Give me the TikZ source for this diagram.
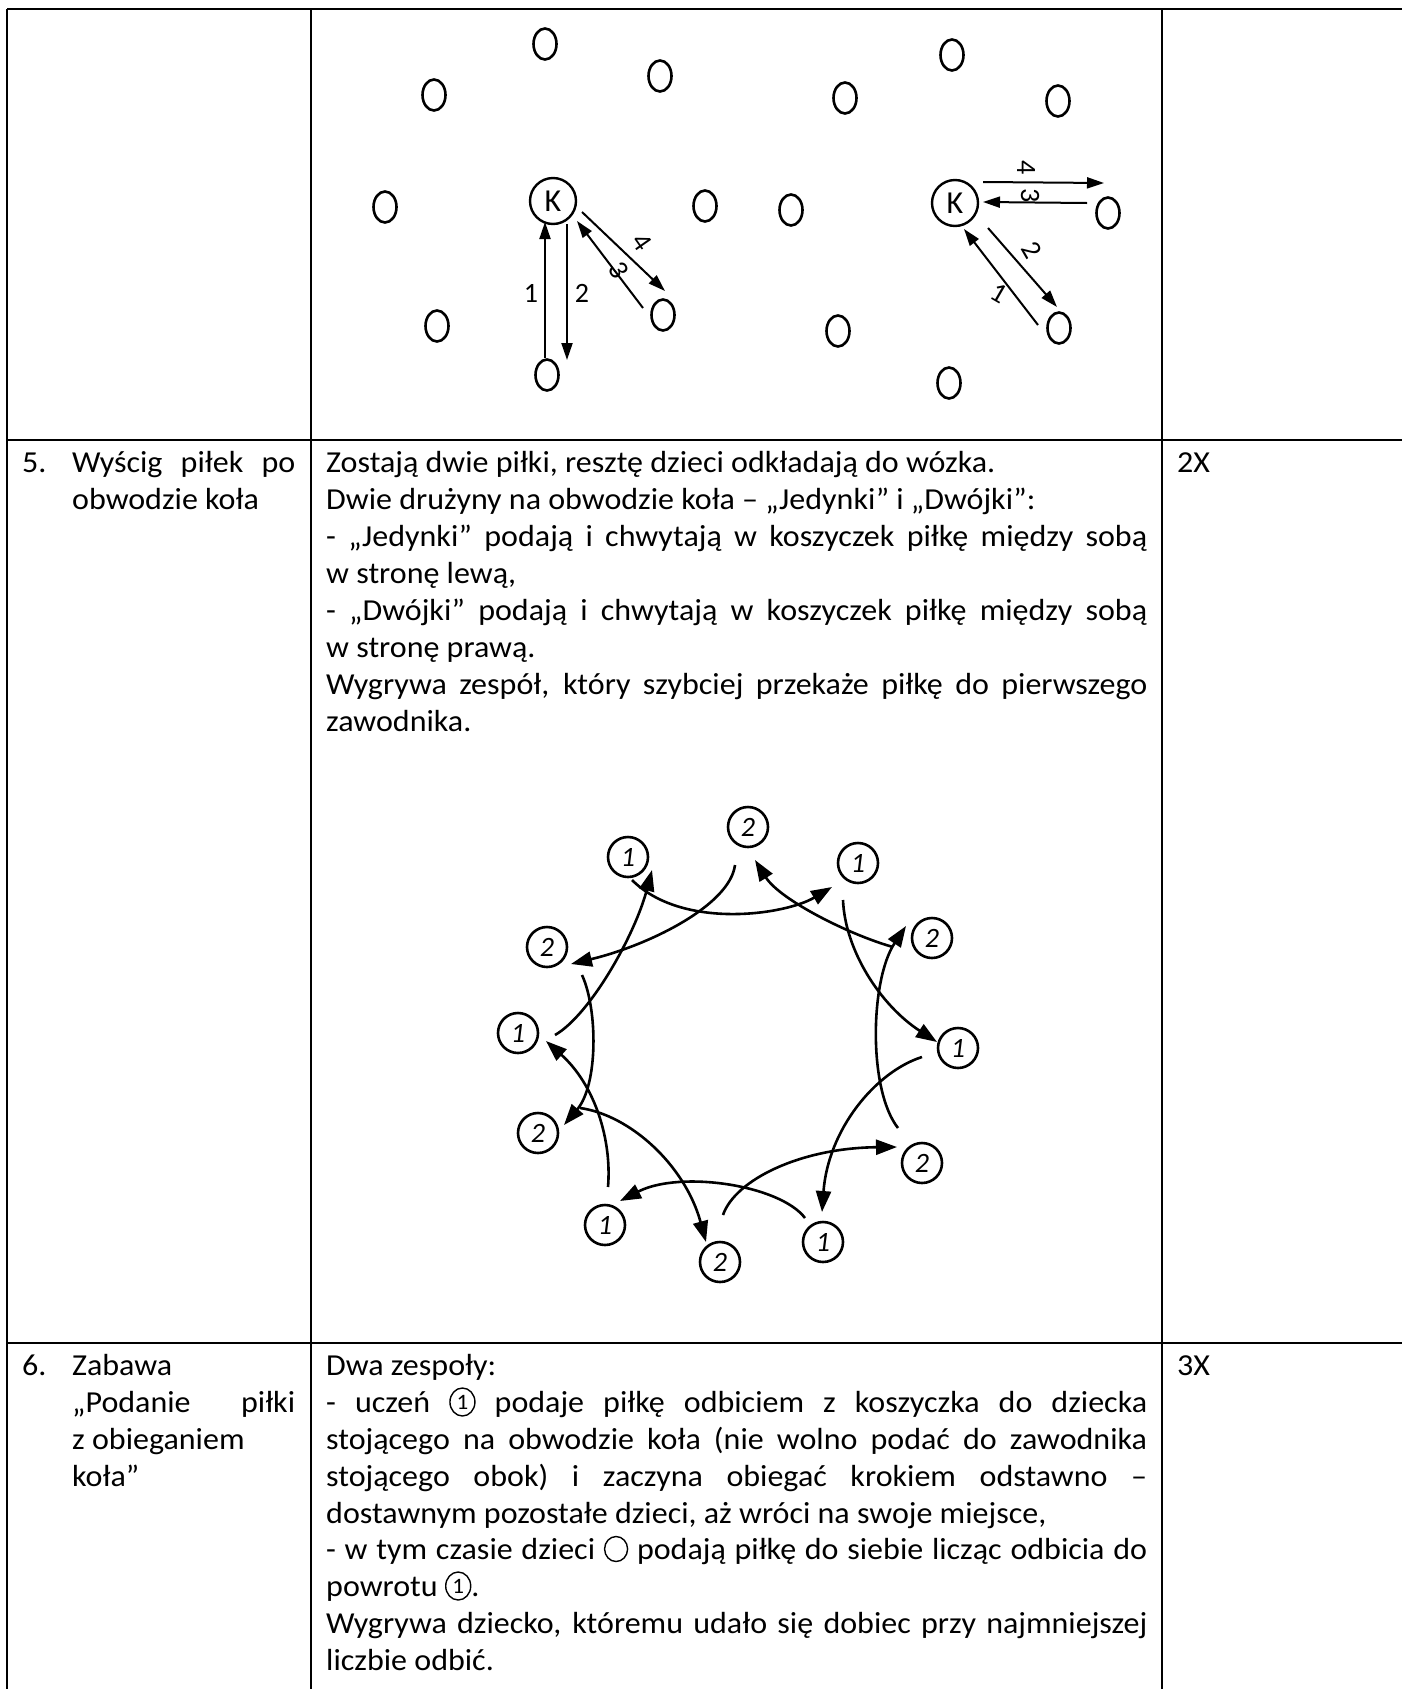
\documentclass[tikz,border=0pt]{standalone}
\usepackage{fontspec}
\setmainfont{Carlito}[FakeStretch=1.05]
\newfontfamily\handfont{Carlito}
\usetikzlibrary{arrows.meta,shapes.geometric}
\newcommand\jedynkakolo{\tikz[x=1pt,y=1pt,baseline=-10pt]{\draw[line width=1.4pt] (0,0) circle[x radius=12.5pt,y radius=14pt]; \node[anchor=center,inner sep=0pt,font=\fontsize{22}{22}\selectfont] (icj) at (0,0) {1};}}
\newcommand\pustekolo{\tikz[x=1pt,y=1pt,baseline=-10pt]{\draw[line width=1.4pt] (0,0) circle[x radius=11.5pt,y radius=12.5pt];}}
\begin{document}
\begin{tikzpicture}[x=1pt,y=-1pt,
  gridline/.style={line width=2.6pt},
  txt/.style={anchor=base west,inner sep=0pt,font=\fontsize{30.5}{36.9}\selectfont},
  ball/.style={draw,ellipse,minimum width=23pt,minimum height=31pt,line width=2.6pt,inner sep=0pt},
  kball/.style={draw,circle,minimum size=46pt,line width=2.4pt,inner sep=0pt,font=\handfont\fontsize{32}{32}\selectfont},
  hand/.style={inner sep=0pt,font=\handfont\fontsize{28}{28}\selectfont},
  sarr/.style={line width=2pt,-{Triangle[length=17pt,width=11pt]}},
  player/.style={draw,circle,minimum size=40pt,line width=2.6pt,inner sep=0pt,font=\handfont\fontsize{28}{28}\itshape},
  carr/.style={line width=2.6pt,-{Triangle[length=21pt,width=15pt]}}]
\useasboundingbox (0,0) rectangle (1402,1689);
\fill[white] (0,0) rectangle (1402,1689);

% table rules
\draw[gridline] (7,9) -- (1402,9);
\draw[gridline] (7,440) -- (1402,440);
\draw[gridline] (7,1343) -- (1402,1343);
\draw[gridline] (7,9) -- (7,1689);
\draw[gridline] (311,9) -- (311,1689);
\draw[gridline] (1162,9) -- (1162,1689);

% ---------- top drawing, left group ----------
\node[ball] (b1) at (545,44) {};
\node[ball] (b2) at (434,95) {};
\node[ball] (b3) at (660,76) {};
\node[ball] (b4) at (385,207) {};
\node[kball] (k1) at (553,201) {K};
\node[ball] (b6) at (705,206) {};
\node[ball] (b7) at (437,326) {};
\node[ball] (b8) at (663,315) {};
\node[ball] (b9) at (547,375) {};
\coordinate (a1s) at (545,358); \coordinate (a1e) at (545,222);
\coordinate (a2s) at (567,224); \coordinate (a2e) at (567,360);
\coordinate (a3s) at (643,308); \coordinate (a3e) at (577,221);
\coordinate (a4s) at (582,212); \coordinate (a4e) at (665,291);
\draw[sarr] (a1s) -- (a1e);
\draw[sarr] (a2s) -- (a2e);
\draw[sarr] (a3s) -- (a3e);
\draw[sarr] (a4s) -- (a4e);
\node[hand] (l1) at (531,293) {1};
\node[hand] (l2) at (582,293) {2};
\node[hand,rotate=-60] (l3) at (619,270) {3};
\node[hand,rotate=-55] (l4) at (642,242) {4};

% ---------- top drawing, right group ----------
\node[ball] (b10) at (952,55) {};
\node[ball] (b11) at (845,98) {};
\node[ball] (b12) at (1058,101) {};
\node[ball] (b13) at (791,210) {};
\node[kball] (k2) at (955,203) {K};
\node[ball] (b15) at (1108,213) {};
\node[ball] (b16) at (838,331) {};
\node[ball] (b17) at (1059,328) {};
\node[ball] (b18) at (949,383) {};
\coordinate (r4s) at (983,182); \coordinate (r4e) at (1104,183);
\coordinate (r3s) at (1087,203); \coordinate (r3e) at (983,202);
\coordinate (r2s) at (988,228); \coordinate (r2e) at (1057,307);
\coordinate (r1s) at (1038,325); \coordinate (r1e) at (964,229);
\draw[sarr] (r4s) -- (r4e);
\draw[sarr] (r3s) -- (r3e);
\draw[sarr] (r2s) -- (r2e);
\draw[sarr] (r1s) -- (r1e);
\node[hand,rotate=-90] (m4) at (1026,168) {4};
\node[hand,rotate=-90] (m3) at (1030,196) {3};
\node[hand,rotate=-60] (m2) at (1032,250) {2};
\node[hand,rotate=-30] (m1) at (999,293) {1};

% ---------- row 5 ----------
\node[txt] (n5) at (22,472) {5.};
\node[txt] (n5a) at (72,472) {\makebox[223pt][s]{Wyścig piłek po}};
\node[txt] (n5b) at (72,509) {obwodzie koła};
\node[txt] (t1) at (326,472) {Zostają dwie piłki, resztę dzieci odkładają do wózka.};
\node[txt] (t2) at (326,509) {Dwie drużyny na obwodzie koła – „Jedynki” i „Dwójki”:};
\node[txt] (t3) at (326,546) {\makebox[821pt][s]{- „Jedynki” podają i chwytają w koszyczek piłkę między sobą}};
\node[txt] (t4) at (326,583) {w stronę lewą,};
\node[txt] (t5) at (326,620) {\makebox[821pt][s]{- „Dwójki” podają i chwytają w koszyczek piłkę między sobą}};
\node[txt] (t6) at (326,657) {w stronę prawą.};
\node[txt] (t7) at (326,694) {\makebox[821pt][s]{Wygrywa zespół, który szybciej przekaże piłkę do pierwszego}};
\node[txt] (t8) at (326,731) {zawodnika.};
\node[txt] (x5) at (1177,472) {2X};

% ---------- circle diagram ----------
\node[player] (p2t) at (748,827) {2};
\node[player] (p1tl) at (628,857) {1};
\node[player] (p1tr) at (858,863) {1};
\node[player] (p2l) at (547,947) {2};
\node[player] (p2r) at (932,938) {2};
\node[player] (p1l) at (518,1033) {1};
\node[player] (p1r) at (958,1048) {1};
\node[player] (p2ll) at (538,1133) {2};
\node[player] (p2rl) at (922,1163) {2};
\node[player] (p1bl) at (605,1225) {1};
\node[player] (p1br) at (823,1242) {1};
\node[player] (p2b) at (720,1262) {2};
\coordinate (ca0) at (632,880);  \coordinate (ca1) at (832,887);
\coordinate (cb0) at (735,865);  \coordinate (cb1) at (571,964);
\coordinate (cc0) at (555,1035); \coordinate (cc1) at (652,870);
\coordinate (cd0) at (893,947);  \coordinate (cd1) at (755,860);
\coordinate (ce0) at (843,900);  \coordinate (ce1) at (937,1042);
\coordinate (cf0) at (898,1128); \coordinate (cf1) at (906,926);
\coordinate (cg0) at (922,1057); \coordinate (cg1) at (822,1212);
\coordinate (ch0) at (723,1215); \coordinate (ch1) at (897,1147);
\coordinate (ci0) at (805,1218); \coordinate (ci1) at (620,1201);
\coordinate (cj0) at (580,1108); \coordinate (cj1) at (706,1242);
\coordinate (ck0) at (608,1187); \coordinate (ck1) at (546,1041);
\coordinate (cl0) at (582,975);  \coordinate (cl1) at (564,1125);
\draw[carr] (ca0) .. controls (682,930) and (785,915) .. (ca1);
\draw[carr] (cb0) .. controls (730,905) and (650,945) .. (cb1);
\draw[carr] (cc0) .. controls (590,1015) and (635,935) .. (cc1);
\draw[carr] (cd0) .. controls (850,935) and (780,900) .. (cd1);
\draw[carr] (ce0) .. controls (845,950) and (880,1005) .. (ce1);
\draw[carr] (cf0) .. controls (868,1090) and (870,980) .. (cf1);
\draw[carr] (cg0) .. controls (875,1072) and (828,1130) .. (cg1);
\draw[carr] (ch0) .. controls (735,1180) and (800,1148) .. (ch1);
\draw[carr] (ci0) .. controls (780,1185) and (680,1170) .. (ci1);
\draw[carr] (cj0) .. controls (630,1115) and (685,1165) .. (cj1);
\draw[carr] (ck0) .. controls (612,1140) and (595,1085) .. (ck1);
\draw[carr] (cl0) .. controls (598,1010) and (598,1085) .. (cl1);

% ---------- row 6 ----------
\node[txt] (n6) at (22,1375) {6.};
\node[txt] (n6a) at (72,1375) {Zabawa};
\node[txt] (n6b) at (72,1412) {\makebox[223pt][s]{„Podanie piłki}};
\node[txt] (n6c) at (72,1449) {z obieganiem};
\node[txt] (n6d) at (72,1486) {koła”};
\node[txt] (u1) at (326,1375) {Dwa zespoły:};
\node[txt] (u2) at (326,1412) {\makebox[821pt][s]{- uczeń \jedynkakolo{} podaje piłkę odbiciem z koszyczka do dziecka}};
\node[txt] (u3) at (326,1449) {\makebox[821pt][s]{stojącego na obwodzie koła (nie wolno podać do zawodnika}};
\node[txt] (u4) at (326,1486) {\makebox[821pt][s]{stojącego obok) i zaczyna obiegać krokiem odstawno –}};
\node[txt] (u5) at (326,1523) {dostawnym pozostałe dzieci, aż wróci na swoje miejsce,};
\node[txt] (u6) at (326,1559) {\makebox[821pt][s]{- w tym czasie dzieci \pustekolo{} podają piłkę do siebie licząc odbicia do}};
\node[txt] (u7) at (326,1596) {powrotu \jedynkakolo{}.};
\node[txt] (u8) at (326,1633) {\makebox[821pt][s]{Wygrywa dziecko, któremu udało się dobiec przy najmniejszej}};
\node[txt] (u9) at (326,1670) {liczbie odbić.};
\node[txt] (x6) at (1177,1375) {3X};
\end{tikzpicture}
\end{document}
